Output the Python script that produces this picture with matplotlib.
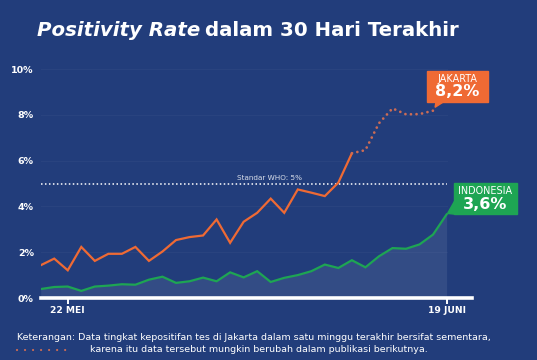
#!/usr/bin/env python3
"""Positivity rate, Jakarta vs Indonesia, last 30 days."""

import matplotlib
import numpy as np

matplotlib.use("Agg")
import matplotlib.pyplot as plt
from matplotlib.patches import Polygon, Rectangle
from matplotlib.transforms import IdentityTransform

# 20 Mei .. 19 Juni (31 hari)
day_idx = list(range(31))
tick_idx = [2, 30]
tick_labels = ["22 MEI", "19 JUNI"]

jakarta = [1.43, 1.72, 1.21, 2.23, 1.62, 1.93, 1.93, 2.23, 1.62, 2.03,
           2.53, 2.66, 2.73, 3.43, 2.41, 3.33, 3.72, 4.34, 3.72, 4.74,
           4.60, 4.45, 5.04, 6.32, 6.46, 7.63, 8.28, 8.02, 8.03, 8.18]
jakarta_final = 23  # setelah titik ini data sementara (titik-titik)

indonesia = [0.39, 0.48, 0.50, 0.31, 0.50, 0.54, 0.60, 0.58, 0.80, 0.93,
             0.66, 0.73, 0.89, 0.73, 1.12, 0.90, 1.17, 0.70, 0.88, 1.00,
             1.17, 1.46, 1.31, 1.65, 1.34, 1.82, 2.18, 2.15, 2.34, 2.77,
             3.65]

who_limit = 5.0
y_ticks = [0, 2, 4, 6, 8, 10]
y_tick_labels = ["0%", "2%", "4%", "6%", "8%", "10%"]

BG = "#223d7b"
ORANGE = "#ef6a34"
DOTTED = "#cc6c55"
GREEN = "#1ea553"
WHITE = "#ffffff"

W, H = 537, 360
fig = plt.figure(figsize=(W / 100, H / 100), dpi=100, facecolor=BG)
plt.rcParams["font.family"] = ["DejaVu Sans"]

x0_px, x1_px = 40.7, 472.0
y0_px = 298.0
px_per_pct = 22.9
ymax = 10.5
step_px = 13.53
xmax = (x1_px - x0_px) / step_px
ax = fig.add_axes([x0_px / W, (H - y0_px) / H, (x1_px - x0_px) / W, ymax * px_per_pct / H])
ax.set_facecolor(BG)
ax.set_xlim(0, xmax)
ax.set_ylim(0, ymax)
for s in ax.spines.values():
    s.set_visible(False)

# faint grid
for yt in y_ticks[1:]:
    ax.axhline(yt, xmin=0, xmax=30 / xmax, color=WHITE, alpha=0.035, lw=0.8, zorder=1)

# area under Indonesia
ind = np.array(indonesia)
ax.fill_between(day_idx, 0, ind, color=WHITE, alpha=0.08, lw=0, zorder=2)

# WHO line
ax.plot([0, 30], [who_limit, who_limit], color=WHITE, lw=1.1, ls=(0, (1, 1.6)), zorder=3)
ax.text(19.3, who_limit + 0.12, "Standar WHO: 5%", color="#d8deea", fontsize=5.2,
        ha="right", va="bottom", zorder=3)

# lines
jk_x = day_idx[:len(jakarta)]
ax.plot(jk_x[:jakarta_final + 1], jakarta[:jakarta_final + 1], color=ORANGE, lw=1.6, zorder=5,
        solid_joinstyle="miter")
ax.plot(jk_x[jakarta_final:], jakarta[jakarta_final:], color=DOTTED, lw=2.0,
        ls=(0, (0.01, 2.0)), dash_capstyle="round", zorder=5)
ax.plot(day_idx, indonesia, color=GREEN, lw=1.6, zorder=5, solid_joinstyle="miter")

# baseline axis + ticks
ax.axhline(0, color=WHITE, lw=2.6, zorder=6, clip_on=False)
ax.set_xticks(tick_idx)
ax.set_xticklabels(tick_labels, fontsize=6.6, fontweight="bold", color=WHITE)
ax.tick_params(axis="x", length=4, width=1.4, color=WHITE, pad=2)
ax.set_yticks(y_ticks)
ax.set_yticklabels(y_tick_labels, fontsize=6.8, fontweight="bold", color=WHITE)
ax.tick_params(axis="y", length=0, pad=5)

# callout boxes
ident = IdentityTransform()


def callout(x, y, dx, dy, w, h, tail, color, name, value):
    px, py = ax.transData.transform((x, y))
    bx, by = px + dx, py + dy
    fig.patches.append(Rectangle((bx, by), w, h, transform=ident, color=color,
                                 figure=fig, zorder=10))
    pts = [(px + a, py + b) for a, b in tail]
    fig.patches.append(Polygon(pts, closed=True, transform=ident, color=color,
                               figure=fig, zorder=10))
    fig.text(bx + w / 2, by + h - 3, name, transform=ident, color=WHITE,
             fontsize=6.9, ha="center", va="top", zorder=11)
    fig.text(bx + w / 2, by + 2.5, value, transform=ident, color=WHITE,
             fontsize=11.5, fontweight="bold", ha="center", va="bottom", zorder=11)


callout(jk_x[-1], jakarta[-1], -6.3, 9.0, 61.6, 31.0,
        [(2, 3.4), (3, 9.2), (11, 9.2)], ORANGE, "JAKARTA", "8,2%")
callout(day_idx[-1], indonesia[-1], 7.6, 0.3, 62.4, 30.7,
        [(1, 1), (7.8, 0.3), (7.8, 13)], GREEN, "INDONESIA", "3,6%")

# title
t1 = fig.text(37 / W, 1 - 36 / H, "Positivity Rate", color=WHITE, fontsize=14.2,
              fontweight="bold", fontstyle="italic", ha="left", va="baseline")
fig.canvas.draw()
bb = t1.get_window_extent()
fig.text(bb.x1 + 5, (1 - 36 / H) * H, "dalam 30 Hari Terakhir", transform=ident,
         color=WHITE, fontsize=14.2, fontweight="bold", ha="left", va="baseline")

# footnote
fig.text(17 / W, 1 - 337 / H, "Keterangan: Data tingkat kepositifan tes di Jakarta dalam satu "
         "minggu terakhir bersifat sementara,", color=WHITE, fontsize=6.8,
         ha="left", va="center")
fig.text(90 / W, 1 - 350 / H, "karena itu data tersebut mungkin berubah dalam publikasi "
         "berikutnya.", color=WHITE, fontsize=6.8, ha="left", va="center")
fig.lines.append(plt.Line2D([17 / W, 70 / W], [1 - 350 / H, 1 - 350 / H],
                            transform=fig.transFigure, color=DOTTED, lw=1.6,
                            ls=(0, (0.01, 3.6)), dash_capstyle="round"))

fig.savefig("out.png", dpi=100, facecolor=BG)
